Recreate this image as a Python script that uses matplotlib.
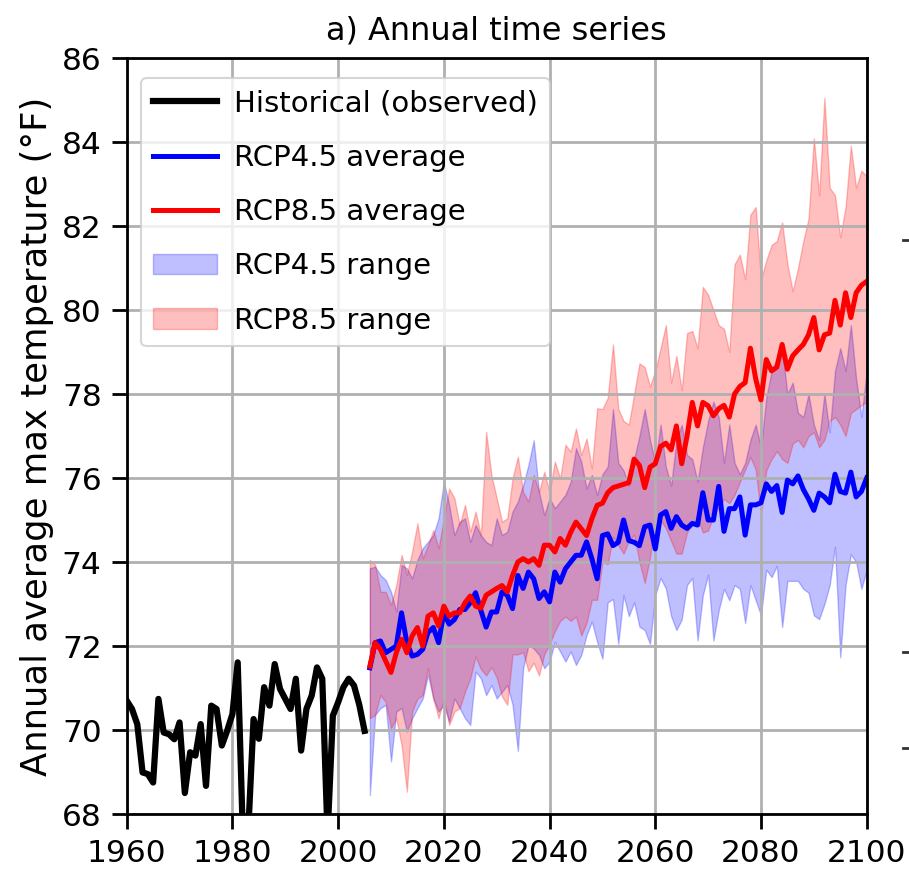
import numpy as np
import matplotlib
matplotlib.use('Agg')
import matplotlib.pyplot as plt
from matplotlib.patches import Patch
from matplotlib.lines import Line2D

plt.rcParams['font.family'] = 'DejaVu Sans'

# observed annual average max temperature (F), 1960-2005
hist_years = list(range(1960, 2006))
hist_temp = [70.70, 70.50, 70.14, 68.99, 68.95, 68.75, 70.74, 69.94, 69.90, 69.78,
             70.18, 68.50, 69.47, 69.39, 70.14, 68.67, 70.58, 70.50, 69.63, 69.98,
             70.38, 71.61, 67.40, 67.60, 70.26, 69.79, 71.02, 70.58, 71.57, 70.98,
             70.74, 70.50, 71.22, 69.51, 70.50, 70.82, 71.49, 71.22, 67.50, 70.34,
             70.66, 71.02, 71.22, 71.06, 70.60, 69.98]

# projections 2006-2100
proj_years = list(range(2006, 2101))

rcp45_mean = [71.48, 72.08, 72.12, 71.84, 71.92, 72.00, 72.79, 72.08, 71.76, 71.80,
              71.92, 72.32, 72.44, 72.08, 72.79, 72.52, 72.63, 72.87, 72.87, 73.03,
              73.27, 72.85, 72.45, 72.81, 72.81, 73.29, 73.21, 72.89, 73.68, 73.37,
              73.76, 73.60, 73.13, 73.29, 73.05, 73.76, 73.52, 73.84, 74.00, 74.16,
              74.16, 74.48, 74.08, 73.60, 74.63, 74.67, 74.39, 74.47, 75.00, 74.51,
              74.47, 74.39, 74.84, 74.88, 74.31, 75.12, 75.20, 74.80, 75.08, 74.88,
              74.80, 74.92, 74.88, 75.65, 75.00, 75.00, 75.80, 74.73, 75.27, 75.27,
              75.55, 74.64, 75.36, 75.36, 75.41, 75.86, 75.68, 75.82, 75.18, 75.95,
              75.86, 76.05, 75.73, 75.50, 75.23, 75.64, 75.55, 75.41, 76.09, 75.68,
              75.64, 76.14, 75.55, 75.68, 76.00]

rcp85_mean = [71.52, 72.08, 71.92, 71.64, 71.37, 71.84, 72.16, 71.84, 72.24, 72.44,
              72.00, 72.71, 72.79, 72.48, 72.95, 72.71, 72.79, 72.79, 73.03, 73.19,
              72.95, 72.90, 73.21, 73.29, 73.37, 73.44, 73.29, 73.68, 74.00, 74.08,
              74.00, 74.08, 73.92, 74.40, 74.40, 74.24, 74.56, 74.40, 74.71, 74.95,
              74.79, 74.63, 75.03, 75.35, 75.40, 75.65, 75.77, 75.81, 75.85, 75.89,
              76.45, 76.30, 75.77, 76.26, 76.34, 76.75, 76.83, 76.67, 77.24, 76.34,
              76.99, 77.80, 77.24, 77.80, 77.72, 77.48, 77.65, 77.73, 77.45, 78.00,
              78.18, 78.27, 79.09, 78.36, 77.86, 78.82, 78.55, 78.64, 79.18, 78.59,
              78.91, 79.05, 79.18, 79.41, 79.82, 79.05, 79.41, 79.45, 80.23, 79.64,
              80.41, 79.82, 80.41, 80.59, 80.68]

rcp45_low = [68.45, 70.36, 70.52, 70.60, 69.25, 70.44, 70.52, 69.96, 70.28, 70.52,
             70.75, 71.31, 70.75, 70.44, 70.60, 70.20, 70.75, 70.52, 70.28, 70.12,
             71.39, 71.23, 70.83, 71.07, 70.75, 70.91, 71.07, 70.60, 69.50, 71.47,
             72.02, 71.94, 71.79, 71.47, 71.63, 72.10, 71.87, 71.63, 71.87, 71.55,
             71.79, 72.26, 72.58, 72.10, 71.70, 73.04, 73.12, 72.05, 73.21, 72.71,
             73.04, 72.46, 72.38, 72.05, 73.21, 73.62, 73.37, 72.71, 72.38, 72.63,
             73.45, 73.62, 72.13, 73.21, 73.70, 72.13, 72.85, 73.36, 73.09, 73.45,
             73.36, 72.55, 73.45, 73.09, 72.73, 73.82, 73.64, 73.91, 72.45, 73.55,
             73.55, 73.55, 73.36, 73.27, 72.73, 72.64, 73.00, 73.45, 74.36, 71.73,
             73.45, 74.18, 74.00, 73.36, 73.82]

rcp45_high = [73.85, 73.89, 73.69, 73.57, 73.29, 72.82, 73.93, 73.85, 73.61, 74.05,
              74.33, 74.48, 74.64, 75.04, 75.91, 75.36, 74.64, 74.96, 75.04, 74.48,
              74.88, 74.64, 74.48, 74.40, 75.04, 74.64, 74.72, 75.20, 75.44, 75.83,
              76.31, 76.90, 75.67, 75.12, 75.52, 75.28, 75.44, 75.60, 75.91, 76.71,
              76.39, 75.75, 76.07, 75.60, 76.09, 76.27, 77.64, 76.36, 76.18, 75.82,
              76.45, 77.00, 77.64, 76.91, 76.36, 77.27, 76.27, 75.82, 76.91, 77.27,
              76.55, 76.45, 75.91, 76.73, 77.36, 77.82, 77.45, 76.36, 77.27, 76.36,
              76.09, 76.36, 76.91, 77.27, 76.73, 77.91, 78.55, 78.82, 79.09, 78.00,
              78.27, 77.55, 77.45, 78.00, 77.27, 76.91, 78.00, 77.09, 78.55, 79.09,
              78.55, 79.64, 78.36, 77.45, 78.55]

rcp85_low = [70.28, 70.36, 70.83, 70.67, 70.04, 70.28, 69.64, 68.53, 70.44, 70.75,
             70.83, 71.47, 70.75, 70.28, 70.75, 70.12, 70.44, 70.52, 70.91, 71.23,
             71.75, 71.45, 71.30, 71.50, 71.25, 70.80, 70.60, 71.80, 71.80, 71.85,
             71.40, 71.60, 71.30, 71.80, 72.05, 72.35, 72.60, 72.70, 72.60, 72.70,
             72.25, 72.55, 73.10, 73.10, 74.00, 73.95, 74.60, 74.40, 74.20, 74.50,
             74.65, 74.00, 73.50, 74.10, 75.00, 75.00, 74.80, 74.50, 74.20, 74.20,
             74.70, 74.90, 75.05, 74.70, 74.75, 75.10, 75.30, 75.50, 75.40, 75.60,
             75.90, 76.20, 76.50, 76.20, 75.10, 76.18, 76.45, 76.64, 76.45, 76.36,
             76.82, 76.91, 76.73, 77.00, 77.09, 76.73, 76.91, 77.36, 77.45, 77.27,
             77.00, 77.55, 77.64, 77.73, 77.82]

rcp85_high = [74.05, 73.93, 73.29, 73.29, 72.98, 73.45, 74.17, 73.69, 74.25, 74.92,
              74.09, 74.40, 74.76, 74.33, 75.04, 75.75, 75.52, 74.88, 75.36, 74.72,
              75.20, 74.64, 77.10, 76.07, 75.52, 74.96, 75.04, 75.99, 76.51, 75.67,
              75.44, 76.07, 75.67, 76.15, 75.67, 76.39, 75.99, 76.79, 76.63, 77.18,
              76.55, 76.94, 76.23, 77.66, 77.64, 77.91, 79.18, 77.64, 77.36, 77.27,
              78.00, 78.73, 78.64, 78.18, 78.55, 79.09, 79.64, 78.27, 78.91, 78.09,
              79.45, 79.50, 79.09, 80.55, 80.36, 80.00, 79.64, 79.55, 79.00, 81.09,
              81.32, 80.73, 82.27, 82.45, 80.73, 81.18, 81.55, 81.64, 82.09, 81.09,
              80.45, 81.00, 81.64, 82.18, 84.09, 82.73, 85.05, 82.91, 82.73, 81.73,
              82.45, 83.91, 82.91, 83.32, 83.18]

xticks = [1960, 1980, 2000, 2020, 2040, 2060, 2080, 2100]
yticks = [68, 70, 72, 74, 76, 78, 80, 82, 84, 86]


fig = plt.figure(figsize=(9.09, 8.71), dpi=100)
ax = fig.add_axes([126.7/909, 1-814/871, 740/909, 756/871])

ax.fill_between(proj_years, rcp45_low, rcp45_high, color='blue', alpha=0.25, lw=1)
ax.fill_between(proj_years, rcp85_low, rcp85_high, color='red', alpha=0.25, lw=1)
ax.plot(hist_years, hist_temp, color='black', lw=4.5)
ax.plot(proj_years, rcp45_mean, color='blue', lw=3.6)
ax.plot(proj_years, rcp85_mean, color='red', lw=3.6)

ax.set_xlim(1960, 2100)
ax.set_ylim(68, 86)
ax.set_xticks(xticks)
ax.set_yticks(yticks)
ax.grid(True, color='#b0b0b0', lw=2)
ax.tick_params(direction='out', length=11, width=2, labelsize=22.5, pad=7)
for sp in ax.spines.values():
	sp.set_linewidth(2)

ax.set_title('a) Annual time series', fontsize=23, pad=13)
ax.set_ylabel('Annual average max temperature (\u00b0F)', fontsize=25.5)
ax.yaxis.set_label_coords(-0.098, 0.5)

handles = [Line2D([], [], color='black', lw=4.5),
           Line2D([], [], color='blue', lw=3.6),
           Line2D([], [], color='red', lw=3.6),
           Patch(facecolor='blue', edgecolor='blue', alpha=0.25),
           Patch(facecolor='red', edgecolor='red', alpha=0.25)]
labels = ['Historical (observed)', 'RCP4.5 average', 'RCP8.5 average', 'RCP4.5 range', 'RCP8.5 range']
leg = ax.legend(handles, labels, loc='upper left', bbox_to_anchor=(0.0193, 0.9735), borderaxespad=0,
                fontsize=21, handlelength=2.2, handletextpad=0.6, labelspacing=0.9, framealpha=0.8)
leg.get_frame().set_linewidth(1.5)

# tick stubs of the neighbouring panel, cut off at the right border
for yy in [240, 652, 748]:
	fig.add_artist(Line2D([903/909, 909/909], [1-yy/871, 1-yy/871], color='#333333', lw=2))

plt.savefig('out.png', dpi=100)
